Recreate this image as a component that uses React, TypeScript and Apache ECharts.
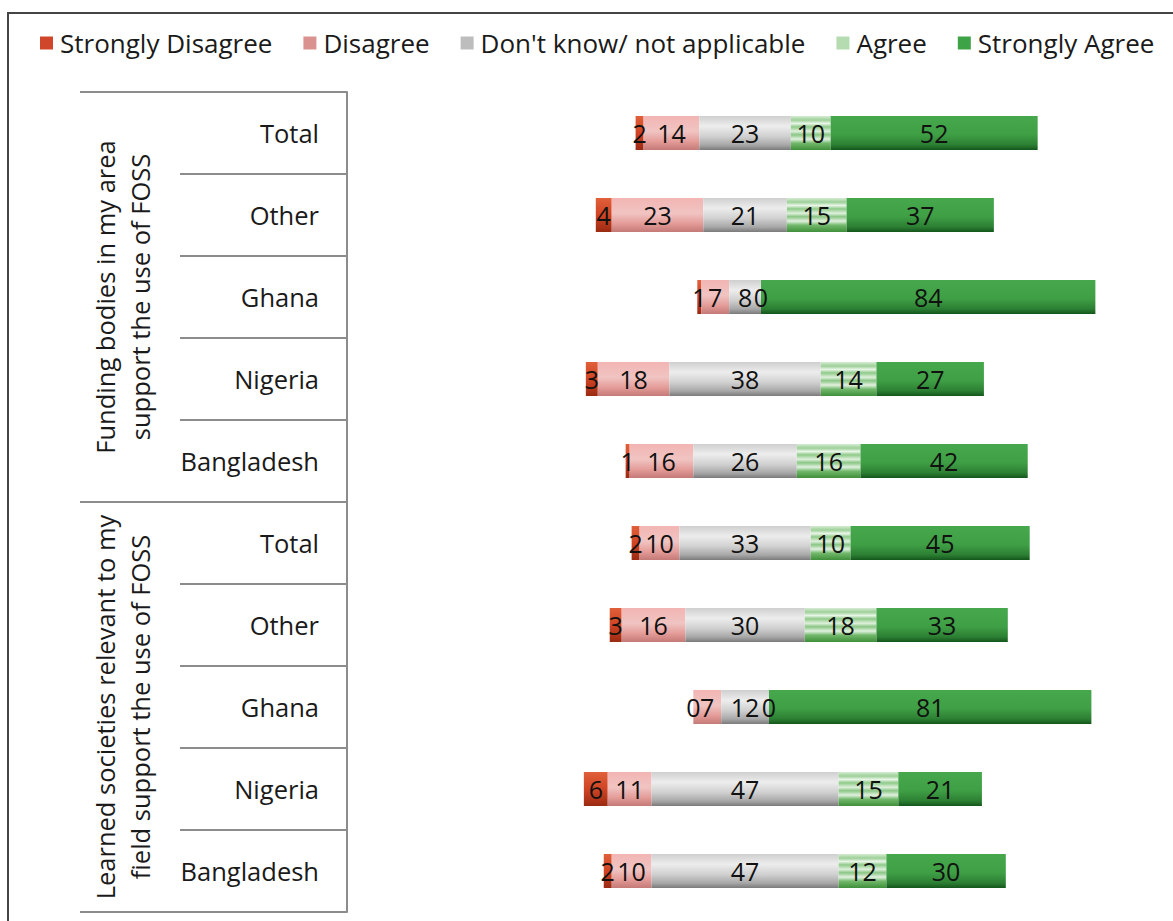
import React, { useEffect, useRef } from "react";
import * as echarts from "echarts";

const categories = [
  "Total", "Other", "Ghana", "Nigeria", "Bangladesh",
  "Total", "Other", "Ghana", "Nigeria", "Bangladesh",
];
const groupLabels = [
  "Funding bodies in my area\nsupport the use of FOSS",
  "Learned societies relevant to my\nfield support the use of FOSS",
];
const seriesNames = ["Strongly Disagree", "Disagree", "Don't know/ not applicable", "Agree", "Strongly Agree"];
const stronglyDisagree = [2, 4, 1, 3, 1, 2, 3, 0, 6, 2];
const disagree = [14, 23, 7, 18, 16, 10, 16, 7, 11, 10];
const dontKnow = [23, 21, 8, 38, 26, 33, 30, 12, 47, 47];
const agree = [10, 15, 0, 14, 16, 10, 18, 0, 15, 12];
const stronglyAgree = [52, 37, 84, 27, 42, 45, 33, 81, 21, 30];

const CENTER = 100;

const grad = (stops: [number, string][]) => ({
  type: "linear", x: 0, y: 0, x2: 0, y2: 1,
  colorStops: stops.map(([offset, color]) => ({ offset, color })),
});

const fills = [
  grad([[0, "#e0603a"], [0.5, "#d04424"], [1, "#9a2a12"]]),
  grad([[0, "#f2b5b3"], [0.45, "#f0c4c2"], [0.75, "#e49c99"], [1, "#c47a76"]]),
  grad([[0, "#cfcfcf"], [0.3, "#ededed"], [0.6, "#d0d0d0"], [0.85, "#a8a8a8"], [1, "#7a7a7a"]]),
  grad([[0, "#d6ecd3"], [0.12, "#9dd098"], [0.22, "#e8f5e6"], [0.32, "#8fca89"], [0.45, "#dff0dc"], [0.55, "#8ac685"], [0.68, "#e2f1df"], [0.8, "#71b86b"], [1, "#3f8f3a"]]),
  grad([[0, "#46a84c"], [0.55, "#3f9f45"], [0.85, "#2c7f33"], [1, "#14561c"]]),
];
const legendColors = ["#d0462a", "#da9290", "#bdbdbd", "#b5dbb1", "#3ea346"];

export default function App() {
  const ref = useRef<HTMLDivElement>(null);
  useEffect(() => {
    if (!ref.current) return;
    const chart = echarts.init(ref.current, null, { renderer: "svg" });
    const font = "Open Sans";
    const values = [stronglyDisagree, disagree, dontKnow, agree, stronglyAgree];
    const offsets = categories.map((_, i) => CENTER - stronglyDisagree[i] - disagree[i] - dontKnow[i] / 2);

    const lineStyle = { stroke: "#8c8c8c", lineWidth: 2 };
    const gridTop = 92;
    const rowH = 82;
    const axisX = 347;

    const series: any[] = [
      {
        name: "offset", type: "bar", stack: "s", data: offsets, barWidth: 34,
        itemStyle: { color: "rgba(0,0,0,0)" }, silent: true, label: { show: false },
      },
      ...seriesNames.map((name, k) => ({
        name, type: "bar", stack: "s", data: values[k], barWidth: 34,
        itemStyle: { color: fills[k] },
        label: {
          show: true, position: "inside", color: "#111", fontSize: 25, fontFamily: font,
          formatter: (p: any) => String(p.value),
        },
      })),
    ];

    chart.setOption({
      animation: false,
      textStyle: { fontFamily: font },
      legend: {
        data: seriesNames.map((n, k) => ({ name: n, itemStyle: { color: legendColors[k] } })),
        left: 40, top: 30, padding: 0, itemGap: 31, itemWidth: 13, itemHeight: 13,
        icon: "rect",
        textStyle: { fontSize: 26, color: "#1a1a1a", fontFamily: font, padding: [0, 0, 0, 2] },
      },
      grid: { left: axisX, top: gridTop, width: 826, height: rowH * 10 },
      xAxis: {
        type: "value", min: 0, max: 207.5, show: false,
      },
      yAxis: {
        type: "category", data: categories, inverse: true,
        axisLine: { show: true, lineStyle: { color: "#8c8c8c", width: 2 } },
        axisTick: { show: true, length: 167, lineStyle: { color: "#8c8c8c", width: 2 } },
        axisLabel: { fontSize: 25.5, color: "#1a1a1a", margin: 28, fontFamily: font },
      },
      series,
      graphic: [
        { type: "rect", shape: { x: 8, y: 13, width: 1200, height: 950 }, style: { fill: "none", stroke: "#444", lineWidth: 2 }, silent: true },
        { type: "line", shape: { x1: 80, y1: gridTop, x2: axisX, y2: gridTop }, style: lineStyle },
        { type: "line", shape: { x1: 80, y1: gridTop + rowH * 5, x2: axisX, y2: gridTop + rowH * 5 }, style: lineStyle },
        { type: "line", shape: { x1: 80, y1: gridTop + rowH * 10, x2: axisX, y2: gridTop + rowH * 10 }, style: lineStyle },
        ...groupLabels.map((t, g) => ({
          type: "text", x: 122, y: gridTop + rowH * (5 * g + 2.5), rotation: Math.PI / 2,
          style: { text: t, fontSize: 25.5, fontFamily: font, fill: "#1a1a1a", align: "center", verticalAlign: "middle", lineHeight: 35 },
        })),
      ],
    });
    return () => chart.dispose();
  }, []);
  return <div ref={ref} style={{ position: "absolute", left: 0, top: 0, width: 1173, height: 921 }} />;
}
